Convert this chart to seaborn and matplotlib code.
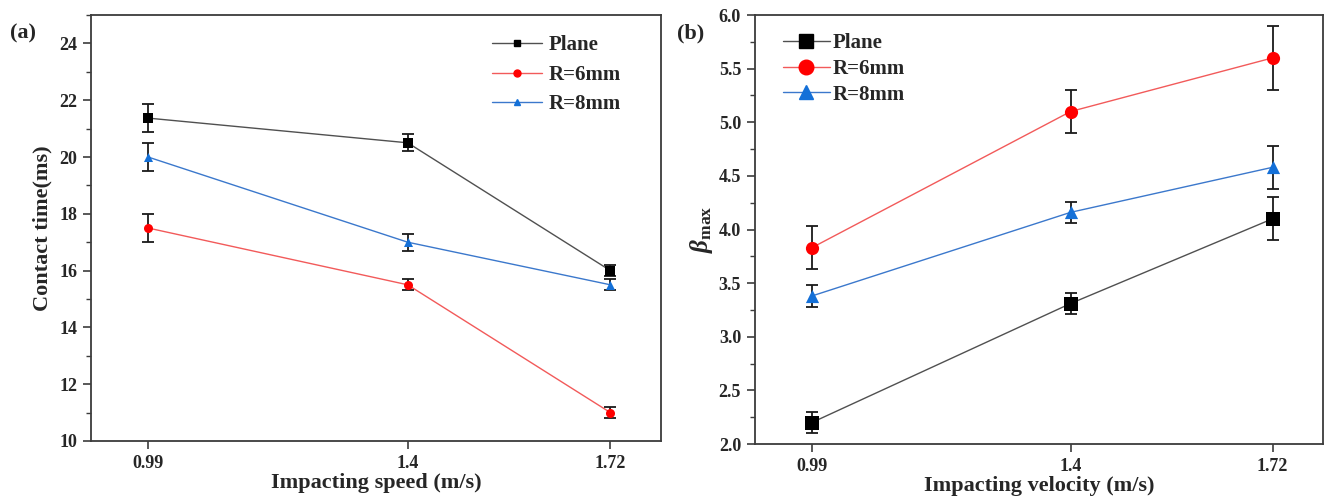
import numpy as np
import pandas as pd
import seaborn as sns
import matplotlib.pyplot as plt
from matplotlib.lines import Line2D
from matplotlib.ticker import MultipleLocator

sns.set_style('white')
plt.rcParams['font.family'] = ['Liberation Serif', 'DejaVu Serif']
plt.rcParams['font.weight'] = 'bold'
plt.rcParams['mathtext.fontset'] = 'custom'
plt.rcParams['mathtext.it'] = 'Liberation Serif:italic:bold'
plt.rcParams['mathtext.rm'] = 'Liberation Serif:bold'

speeds = [0.99, 1.4, 1.72]
speed_labels = ['0.99', '1.4', '1.72']
series = ['Plane', 'R=6mm', 'R=8mm']

# panel (a) contact time (ms)
contact_plane = [21.37, 20.5, 16.0]
contact_r6 = [17.5, 15.5, 11.0]
contact_r8 = [20.0, 17.0, 15.5]
contact_err_plane = [0.5, 0.3, 0.2]
contact_err_r6 = [0.5, 0.2, 0.2]
contact_err_r8 = [0.5, 0.3, 0.2]

# panel (b) beta max
beta_plane = [2.2, 3.31, 4.1]
beta_r6 = [3.83, 5.1, 5.6]
beta_r8 = [3.38, 4.16, 4.58]
beta_err_plane = [0.1, 0.1, 0.2]
beta_err_r6 = [0.2, 0.2, 0.3]
beta_err_r8 = [0.1, 0.1, 0.2]

line_colors = {'Plane': '#505050', 'R=6mm': '#f25a5a', 'R=8mm': '#3b78cc'}
marker_colors = {'Plane': 'black', 'R=6mm': '#ff0000', 'R=8mm': '#1470d8'}
markers = {'Plane': 's', 'R=6mm': 'o', 'R=8mm': '^'}
AX_COLOR = '#3c3c3c'


def make_df(vals, errs):
    rows = []
    for name, v, e in zip(series, vals, errs):
        for x, y, s in zip(speeds, v, e):
            rows.append({'speed': x, 'value': y, 'err': s, 'series': name})
    return pd.DataFrame(rows)


df_a = make_df([contact_plane, contact_r6, contact_r8],
               [contact_err_plane, contact_err_r6, contact_err_r8])
df_b = make_df([beta_plane, beta_r6, beta_r8],
               [beta_err_plane, beta_err_r6, beta_err_r8])

fig = plt.figure(figsize=(13.25, 4.97), dpi=100)
ax_a = fig.add_axes([0.0687, 0.1127, 0.4302, 0.8571])
ax_b = fig.add_axes([0.5698, 0.1066, 0.4287, 0.8632])


def draw(ax, df, msize, legsize, capsize):
    handles = []
    for name in series:
        sub = df[df['series'] == name]
        sns.lineplot(data=sub, x='speed', y='value', ax=ax, color=line_colors[name],
                     linewidth=1.0, legend=False, zorder=2)
        ax.errorbar(sub['speed'], sub['value'], yerr=sub['err'], fmt='none',
                    ecolor='#1a1a1a', elinewidth=1.3, capsize=capsize, capthick=1.3, zorder=3)
        ax.scatter(sub['speed'], sub['value'], marker=markers[name], s=msize ** 2,
                   color=marker_colors[name], zorder=4, linewidths=0)
        handles.append(Line2D([], [], color=line_colors[name], lw=1.0,
                              marker=markers[name], markersize=legsize,
                              markerfacecolor=marker_colors[name],
                              markeredgecolor=marker_colors[name], label=name))
    for sp in ax.spines.values():
        sp.set_color(AX_COLOR)
        sp.set_linewidth(1.3)
    ax.set_xlim(0.90, 1.80)
    ax.set_xticks(speeds)
    ax.set_xticklabels(speed_labels)
    ax.tick_params(axis='both', which='major', direction='out', length=6, width=1.2,
                   labelsize=13, pad=4, bottom=True, left=True, top=False, right=False,
                   color=AX_COLOR)
    ax.tick_params(axis='y', which='minor', direction='out', length=3.5, width=1.0,
                   left=True, color=AX_COLOR)
    ax.set_ylabel('')
    ax.set_xlabel('')
    return handles


h_a = draw(ax_a, df_a, 6.5, 5, 4)
ax_a.set_ylim(10, 25)
ax_a.yaxis.set_minor_locator(MultipleLocator(1))
ax_a.set_yticks([10, 12, 14, 16, 18, 20, 22, 24])
for lab in ax_a.get_xticklabels() + ax_a.get_yticklabels():
    lab.set_fontweight('bold')
ax_a.set_xlabel('Impacting speed (m/s)', fontsize=16, fontweight='bold', labelpad=1)
ax_a.set_ylabel('Contact time(ms)', fontsize=16, fontweight='bold', labelpad=5)
ax_a.legend(handles=h_a, loc='upper left', bbox_to_anchor=(0.7035, 0.952), frameon=False,
            prop={'size': 15, 'weight': 'bold'}, handlelength=2.4, handletextpad=0.3,
            labelspacing=0.45, borderpad=0, borderaxespad=0)

h_b = draw(ax_b, df_b, 9.5, 10.5, 4.5)
ax_b.set_ylim(2.0, 6.0)
ax_b.yaxis.set_minor_locator(MultipleLocator(0.25))
beta_ticks = np.arange(2.0, 6.01, 0.5)
ax_b.set_yticks(beta_ticks)
ax_b.set_yticklabels([f'{v:.1f}' for v in beta_ticks])
for lab in ax_b.get_xticklabels() + ax_b.get_yticklabels():
    lab.set_fontweight('bold')
ax_b.set_xlabel('Impacting velocity (m/s)', fontsize=16, fontweight='bold', labelpad=1)
ax_b.set_ylabel(r'$\beta_{\mathrm{max}}$', fontsize=18, labelpad=3)
ax_b.legend(handles=h_b, loc='upper left', bbox_to_anchor=(0.049, 0.958), frameon=False,
            prop={'size': 15, 'weight': 'bold'}, handlelength=2.25, handletextpad=0.15,
            labelspacing=0.28, borderpad=0, borderaxespad=0)

fig.text(10 / 1325, 1 - 33 / 497, '(a)', fontsize=16, fontweight='bold', va='center')
fig.text(677 / 1325, 1 - 33 / 497, '(b)', fontsize=16, fontweight='bold', va='center')

fig.savefig('out.png', dpi=100)
